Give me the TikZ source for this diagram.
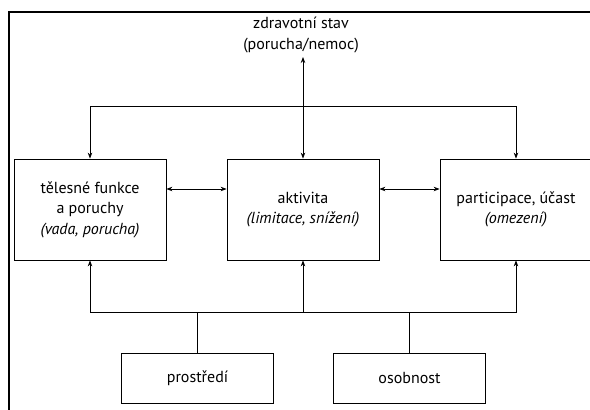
\documentclass[tikz,border=0pt]{standalone}
\usepackage{fontspec}
\setmainfont{PT Sans}
\usetikzlibrary{arrows.meta}
\begin{document}
\begin{tikzpicture}[x=1pt,y=1pt,
  txt/.style={font=\fontsize{16}{20.5}\selectfont},
  box/.style={draw,line width=0.8pt,minimum width=152pt,align=center,inner sep=0pt,txt},
  bigbox/.style={box,minimum height=101pt},
  smallbox/.style={box,minimum height=50pt},
  conn/.style={line width=0.8pt},
  arr/.style={conn,-{Stealth[length=6pt,width=4.5pt]}},
  darr/.style={conn,{Stealth[length=6pt,width=4.5pt]}-{Stealth[length=6pt,width=4.5pt]}}]
\useasboundingbox (0,0) rectangle (590,410);
\clip (0,0) rectangle (590,410);
\draw[line width=1.2pt] (9,-5) rectangle (600,398);
\node[align=center,txt,inner sep=0pt] (health) at (301,375) {zdravotní stav\\(porucha/nemoc)};
\node[bigbox] (body) at (90,200.5) {tělesné funkce\\a poruchy\\\textit{(vada, porucha)}};
\node[bigbox] (act) at (303,200.5) {aktivita\\\textit{(limitace, snížení)}};
\node[bigbox] (part) at (516,200.5) {participace, účast\\\textit{(omezení)}};
\node[smallbox] (env) at (197.5,32) {prostředí};
\node[smallbox] (pers) at (409.5,32) {osobnost};
\coordinate (jt) at (303,304);
\coordinate (jb) at (303,98);
\coordinate (htip) at (303,353);
\draw[arr] (jt) -- (htip);
\draw[arr] (jt) -| (body.north);
\draw[arr] (jt) -- (act.north);
\draw[arr] (jt) -| (part.north);
\draw[darr] ([yshift=20.5pt]body.east) -- ([yshift=20.5pt]act.west);
\draw[darr] ([yshift=20.5pt]act.east) -- ([yshift=20.5pt]part.west);
\draw[arr] (jb) -| (body.south);
\draw[arr] (jb) -- (act.south);
\draw[arr] (jb) -| (part.south);
\draw[conn] (env.north) -- (env.north |- jb);
\draw[conn] (pers.north) -- (pers.north |- jb);
\end{tikzpicture}
\end{document}
